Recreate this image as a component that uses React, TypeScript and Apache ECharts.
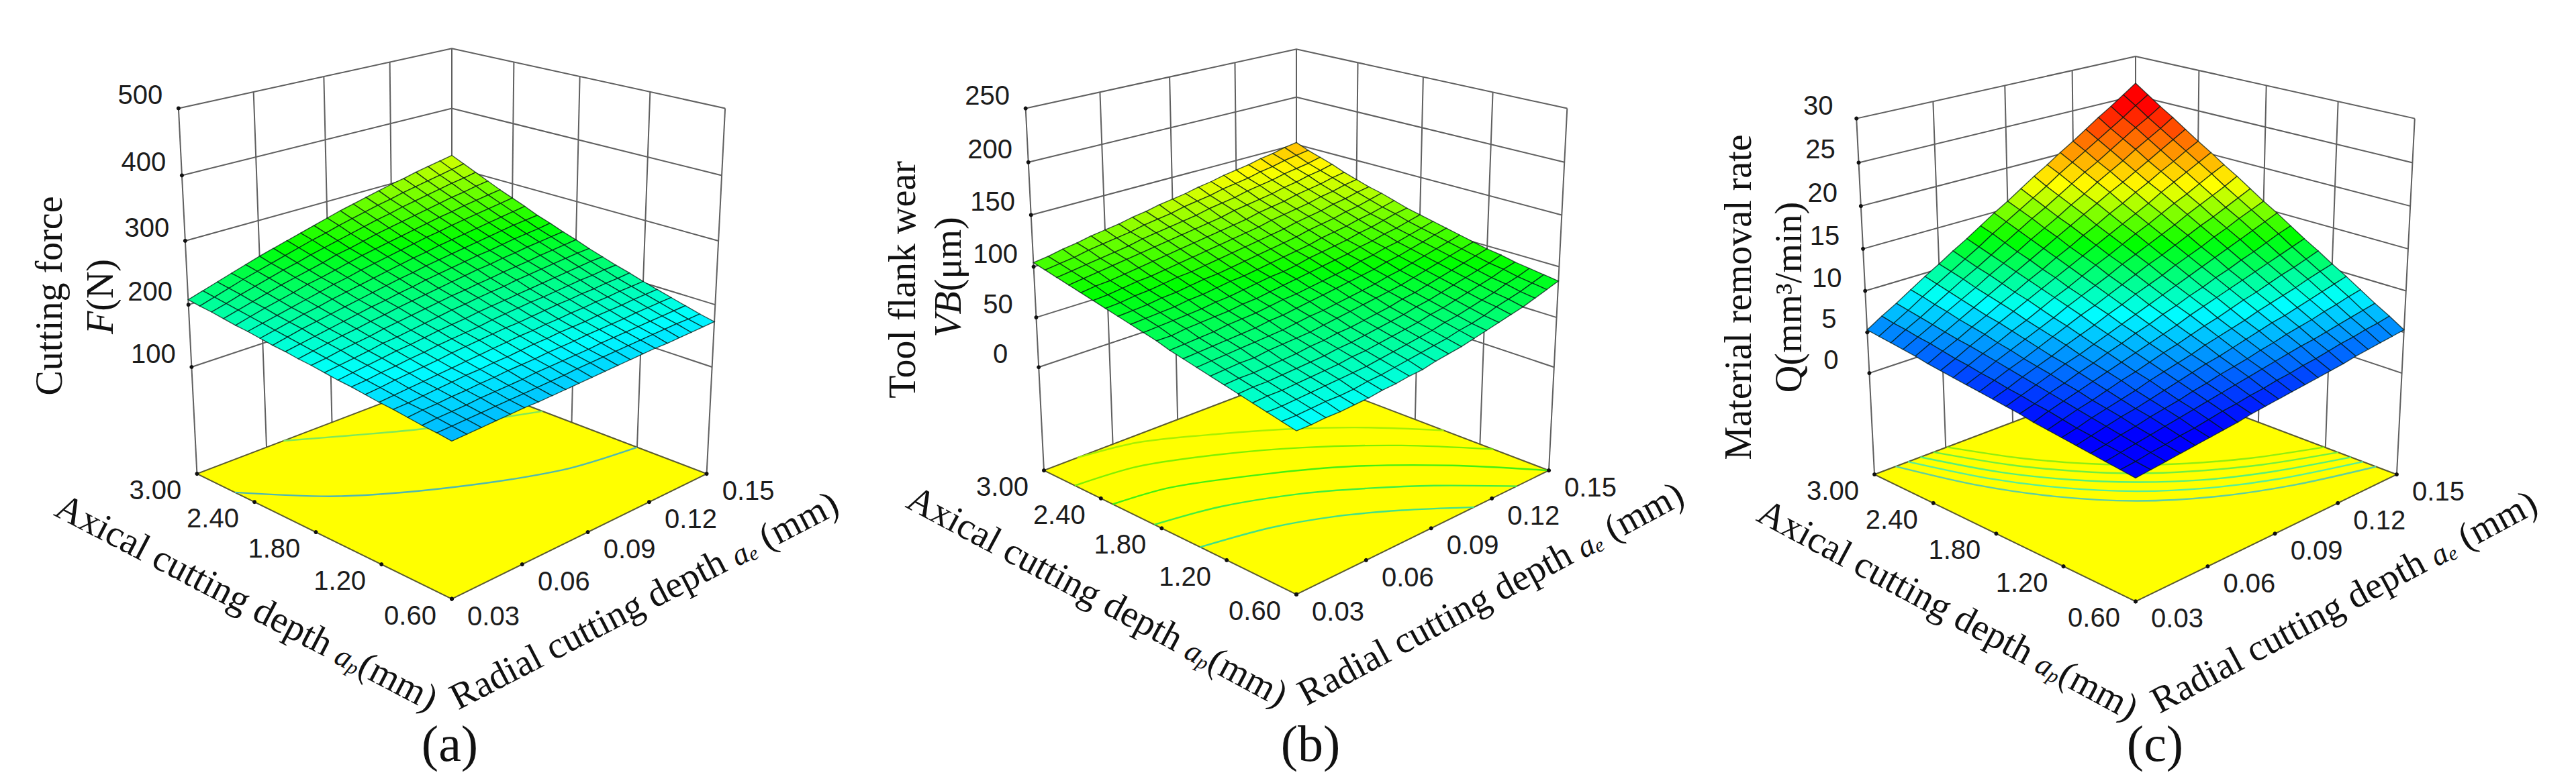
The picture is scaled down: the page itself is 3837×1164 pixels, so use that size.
import React, { useEffect, useRef } from "react";
import * as echarts from "echarts";

// All surface heights below are estimates: corners, edges and floor contours were read
// off the picture; interior nodes are hand-estimated between them, not individually measured.
const aeTicks = [0.03, 0.06, 0.09, 0.12, 0.15];
const apTicks = [0.6, 1.2, 1.8, 2.4, 3.0];
const forceTicks = [100, 200, 300, 400, 500];
const wearTicks = [0, 50, 100, 150, 200, 250];
const rateTicks = [0, 5, 10, 15, 20, 25, 30];

// rows: ap 0.60 -> 3.00; columns: ae 0.03 -> 0.15
const forceTable = [
[155,156,157,158,159,160,160,161,162,163,164,165,166,167,168,169,169,170,171,172,173],
[158,159,160,161,162,163,164,165,166,167,169,170,171,172,173,174,175,176,177,177,178],
[160,162,163,164,166,167,168,169,171,172,173,174,175,177,178,179,180,181,182,183,184],
[163,165,166,168,169,171,172,174,175,176,178,179,180,182,183,184,185,187,188,189,190],
[166,167,169,171,173,175,176,178,179,181,183,184,186,187,188,190,191,192,194,195,196],
[168,170,172,174,176,178,180,182,184,186,188,189,191,192,194,195,197,198,200,201,202],
[171,173,176,178,180,182,185,187,189,191,193,194,196,198,200,201,203,204,206,207,209],
[174,176,179,181,184,186,189,191,193,195,198,200,202,204,205,207,209,211,212,214,215],
[176,179,182,185,188,190,193,196,198,200,203,205,207,209,211,213,215,217,219,221,222],
[179,182,185,188,192,194,197,200,203,206,208,211,213,215,218,220,222,224,226,228,229],
[182,185,189,192,195,199,202,205,208,211,214,216,219,221,224,226,228,231,233,235,237],
[184,188,192,196,199,203,206,210,213,216,219,222,225,228,230,233,235,238,240,242,244],
[187,191,195,199,203,207,211,214,218,221,225,228,231,234,237,239,242,245,247,249,252],
[189,194,199,203,207,211,215,219,223,227,230,234,237,240,243,246,249,252,255,257,259],
[192,197,202,207,211,216,220,224,228,232,236,240,243,247,250,253,256,259,262,265,268],
[195,200,205,210,215,220,225,229,234,238,242,246,250,254,257,261,264,267,270,273,276],
[197,203,209,214,219,225,229,234,239,244,248,252,256,260,264,268,271,275,278,281,284],
[200,206,212,218,224,229,234,239,245,249,254,259,263,267,271,275,279,283,286,290,293],
[203,209,216,222,228,234,239,245,250,255,260,265,270,274,279,283,287,291,295,298,302],
[205,212,219,226,232,238,244,250,256,261,267,272,277,282,286,291,295,299,303,307,311],
[208,215,222,229,236,243,249,255,261,267,273,279,284,289,294,299,303,308,312,316,320],
];
const wearTable = [
[43,43,44,44,45,46,48,49,51,52,55,57,59,62,65,68,71,74,78,82,86],
[46,46,47,48,48,49,51,52,54,56,58,60,62,65,67,70,74,77,80,84,88],
[49,49,50,51,52,53,54,55,57,59,61,63,65,68,70,73,76,79,83,86,90],
[52,53,53,54,55,56,57,59,60,62,64,66,68,71,73,76,79,82,85,89,92],
[55,56,56,57,58,59,60,62,63,65,67,69,71,74,76,79,82,85,88,91,95],
[58,59,59,60,61,62,64,65,67,68,70,72,74,77,79,82,85,88,91,94,97],
[61,62,63,63,65,66,67,68,70,72,74,76,78,80,82,85,88,91,94,97,100],
[64,65,66,67,68,69,70,72,74,75,77,79,81,83,86,88,91,94,97,100,103],
[67,68,69,70,71,72,74,75,77,79,81,83,85,87,89,92,94,97,100,103,106],
[70,71,72,73,75,76,77,79,81,82,84,86,88,90,93,95,98,100,103,106,109],
[74,74,76,77,78,79,81,82,84,86,88,90,92,94,96,99,101,104,106,109,112],
[77,78,79,80,81,83,84,86,88,90,91,93,96,98,100,102,105,107,110,113,115],
[80,81,82,83,85,86,88,90,91,93,95,97,99,101,104,106,108,111,113,116,119],
[83,84,85,87,88,90,92,93,95,97,99,101,103,105,108,110,112,115,117,120,123],
[86,87,89,90,92,94,95,97,99,101,103,105,107,109,112,114,116,119,121,124,126],
[89,90,92,94,95,97,99,101,103,105,107,109,111,114,116,118,120,123,125,128,130],
[92,94,95,97,99,101,103,105,107,109,111,113,115,118,120,122,125,127,129,132,134],
[95,97,99,101,103,105,107,109,111,113,115,117,120,122,124,126,129,131,134,136,139],
[98,100,102,104,106,108,111,113,115,117,119,122,124,126,129,131,133,136,138,140,143],
[101,103,105,108,110,112,114,117,119,121,124,126,128,131,133,135,138,140,143,145,147],
[104,106,109,111,114,116,118,121,123,126,128,130,133,135,138,140,142,145,147,150,152],
];
const rateTable = [
[1.1,1.3,1.5,1.7,1.9,2.1,2.3,2.5,2.8,3.0,3.2,3.4,3.6,3.8,4.0,4.2,4.5,4.7,4.9,5.1,5.3],
[1.3,1.5,1.8,2.0,2.3,2.5,2.8,3.1,3.3,3.6,3.8,4.1,4.3,4.6,4.8,5.1,5.4,5.6,5.9,6.1,6.4],
[1.5,1.8,2.1,2.4,2.7,3.0,3.3,3.6,3.9,4.2,4.5,4.8,5.1,5.4,5.7,5.9,6.2,6.5,6.8,7.1,7.4],
[1.7,2.0,2.4,2.7,3.1,3.4,3.7,4.1,4.4,4.8,5.1,5.4,5.8,6.1,6.5,6.8,7.1,7.5,7.8,8.2,8.5],
[1.9,2.3,2.7,3.1,3.4,3.8,4.2,4.6,5.0,5.4,5.7,6.1,6.5,6.9,7.3,7.6,8.0,8.4,8.8,9.2,9.6],
[2.1,2.5,3.0,3.4,3.8,4.2,4.7,5.1,5.5,5.9,6.4,6.8,7.2,7.6,8.1,8.5,8.9,9.3,9.8,10.2,10.6],
[2.3,2.8,3.3,3.7,4.2,4.7,5.1,5.6,6.1,6.5,7.0,7.5,7.9,8.4,8.9,9.3,9.8,10.3,10.7,11.2,11.7],
[2.5,3.1,3.6,4.1,4.6,5.1,5.6,6.1,6.6,7.1,7.6,8.2,8.7,9.2,9.7,10.2,10.7,11.2,11.7,12.2,12.7],
[2.8,3.3,3.9,4.4,5.0,5.5,6.1,6.6,7.2,7.7,8.3,8.8,9.4,9.9,10.5,11.0,11.6,12.1,12.7,13.3,13.8],
[3.0,3.6,4.2,4.8,5.4,5.9,6.5,7.1,7.7,8.3,8.9,9.5,10.1,10.7,11.3,11.9,12.5,13.1,13.7,14.3,14.9],
[3.2,3.8,4.5,5.1,5.7,6.4,7.0,7.6,8.3,8.9,9.6,10.2,10.8,11.5,12.1,12.7,13.4,14.0,14.7,15.3,15.9],
[3.4,4.1,4.8,5.4,6.1,6.8,7.5,8.2,8.8,9.5,10.2,10.9,11.6,12.2,12.9,13.6,14.3,14.9,15.6,16.3,17.0],
[3.6,4.3,5.1,5.8,6.5,7.2,7.9,8.7,9.4,10.1,10.8,11.6,12.3,13.0,13.7,14.4,15.2,15.9,16.6,17.3,18.1],
[3.8,4.6,5.4,6.1,6.9,7.6,8.4,9.2,9.9,10.7,11.5,12.2,13.0,13.8,14.5,15.3,16.1,16.8,17.6,18.4,19.1],
[4.0,4.8,5.7,6.5,7.3,8.1,8.9,9.7,10.5,11.3,12.1,12.9,13.7,14.5,15.3,16.1,17.0,17.8,18.6,19.4,20.2],
[4.2,5.1,5.9,6.8,7.6,8.5,9.3,10.2,11.0,11.9,12.7,13.6,14.4,15.3,16.1,17.0,17.8,18.7,19.5,20.4,21.2],
[4.5,5.4,6.2,7.1,8.0,8.9,9.8,10.7,11.6,12.5,13.4,14.3,15.2,16.1,17.0,17.8,18.7,19.6,20.5,21.4,22.3],
[4.7,5.6,6.5,7.5,8.4,9.3,10.3,11.2,12.1,13.1,14.0,14.9,15.9,16.8,17.8,18.7,19.6,20.6,21.5,22.4,23.4],
[4.9,5.9,6.8,7.8,8.8,9.8,10.7,11.7,12.7,13.7,14.7,15.6,16.6,17.6,18.6,19.5,20.5,21.5,22.5,23.4,24.4],
[5.1,6.1,7.1,8.2,9.2,10.2,11.2,12.2,13.3,14.3,15.3,16.3,17.3,18.4,19.4,20.4,21.4,22.4,23.4,24.5,25.5],
[5.3,6.4,7.4,8.5,9.6,10.6,11.7,12.7,13.8,14.9,15.9,17.0,18.1,19.1,20.2,21.2,22.3,23.4,24.4,25.5,26.6],
];

// floor contours as [ae, ap] pairs
const forceContours = [
  [[0.03,2.6],[0.052,2.08],[0.082,1.66],[0.118,1.32],[0.15,1.2]],
  [[0.0676,3.0],[0.0877,2.73],[0.11,2.45],[0.15,2.08]],
];
const wearContours = [
  [[0.03,1.44],[0.0545,1.32],[0.0747,1.14],[0.0928,0.9],[0.111,0.6]],
  [[0.03,1.87],[0.0536,1.76],[0.0792,1.52],[0.0972,1.27],[0.114,0.99],[0.1329,0.6]],
  [[0.03,2.28],[0.0516,2.2],[0.0822,1.89],[0.1056,1.58],[0.13,1.11],[0.15,0.6]],
  [[0.03,2.67],[0.0545,2.6],[0.0806,2.35],[0.1045,2.03],[0.13,1.57],[0.15,1.08]],
  [[0.0443,3.0],[0.067,2.9],[0.0924,2.6],[0.114,2.29],[0.133,1.94],[0.15,1.53]],
];
const rateContours = [
  [[0.0387,3],[0.048,2.42],[0.06,1.94],[0.0762,1.52],[0.096,1.21],[0.12,0.97],[0.15,0.77]],
  [[0.0439,3],[0.054,2.44],[0.066,2.0],[0.0812,1.62],[0.099,1.33],[0.12,1.1],[0.15,0.88]],
  [[0.0491,3],[0.06,2.45],[0.072,2.05],[0.0858,1.72],[0.102,1.44],[0.123,1.2],[0.15,0.98]],
  [[0.0547,3],[0.066,2.49],[0.078,2.11],[0.0906,1.81],[0.105,1.57],[0.1245,1.32],[0.15,1.09]],
  [[0.0605,3],[0.072,2.52],[0.084,2.16],[0.0953,1.905],[0.108,1.68],[0.126,1.44],[0.15,1.21]],
];

// heights at which the surface colour reaches blue, cyan, green, yellow, red
const forceColorStops = [99, 179, 250, 332, 410];
const wearColorStops = [-2, 44, 91, 138, 185];
const rateColorStops = [2.4, 8.3, 13, 17.5, 24.5];

const SERIF = "Liberation Serif";
const SANS = "Liberation Sans";
const DIST = 10.18;

const panels = [
  { table: forceTable, zTicks: forceTicks, contours: forceContours, contourColors: ["#4fb8b0", "#7ee85a"], colorStops: forceColorStops,
    cx: 665, cy: 435.3, k: 277.8, h: 1.042, elev: 20, zMin: -77, zMax: 500 },
  { table: wearTable, zTicks: wearTicks, contours: wearContours, contourColors: ["#3fe08a", "#40ee40", "#44f010", "#80f000", "#a8f000"], colorStops: wearColorStops,
    cx: 1923, cy: 432.8, k: 275.2, h: 1.042, elev: 20, zMin: -107, zMax: 250 },
  { table: rateTable, zTicks: rateTicks, contours: rateContours, contourColors: ["#5ecfa0", "#55ee99", "#55f07a", "#70f040", "#90ee10"], colorStops: rateColorStops,
    cx: 3173, cy: 442.7, k: 284.2, h: 0.992, elev: 20, zMin: -12.76, zMax: 30 },
];

const titles = [
  { lines: [
      { text: "{t|Cutting force}", x: 65, y: 433 },
      { text: "{i|F}{t|(N)}", x: 141, y: 434 },
    ], axial: [360, 889, 27.6], radial: [951, 886, 27.4], tag: "(a)", tagAt: [662, 1100] },
  { lines: [
      { text: "{t|Tool flank wear}", x: 1336, y: 409 },
      { text: "{i|VB}{t|(μm)}", x: 1404, y: 405 },
    ], axial: [1627, 880, 28.2], radial: [2212, 876, 28.2], tag: "(b)", tagAt: [1944, 1100] },
  { lines: [
      { text: "{t|Material removal rate}", x: 2581, y: 435 },
      { text: "{t|Q(mm³/min)}", x: 2656, y: 435 },
    ], axial: [2894, 900, 28.2], radial: [3483, 888, 28.1], tag: "(c)", tagAt: [3202, 1100] },
];

const RAMP = [[0, 0, 255], [0, 255, 255], [0, 255, 0], [255, 255, 0], [255, 0, 0]];
function ramp(value: number, stops: number[]) {
  const v = Math.max(stops[0], Math.min(stops[4] - 1e-6, value));
  let i = 0;
  while (i < 3 && v >= stops[i + 1]) i++;
  const m = (v - stops[i]) / (stops[i + 1] - stops[i]);
  const c = RAMP[i].map((x, n) => Math.round(x + (RAMP[i + 1][n] - x) * m));
  return `rgb(${c[0]},${c[1]},${c[2]})`;
}

function makeProjector(p: any) {
  const rad = (p.elev * Math.PI) / 180;
  const c = Math.cos(rad);
  const s = Math.sin(rad);
  const aeLo = aeTicks[0];
  const aeHi = aeTicks[aeTicks.length - 1];
  const apLo = apTicks[0];
  const apHi = apTicks[apTicks.length - 1];
  return (ae: number, ap: number, z: number | null) => {
    const u = (2 * (ae - aeLo)) / (aeHi - aeLo) - 1;
    const v = (2 * (ap - apLo)) / (apHi - apLo) - 1;
    const w = z === null ? -p.h : -p.h + (2 * p.h * (z - p.zMin)) / (p.zMax - p.zMin);
    const a = (u - v) / Math.SQRT2;
    const b = (u + v) / Math.SQRT2;
    const Y = w * c + b * s;
    const Z = b * c - w * s;
    const rho = 1 + Z / DIST;
    return [a / rho, Y / rho];
  };
}

function buildSeries(p: any, idx: number) {
  const proj = makeProjector(p);
  const aeLo = aeTicks[0];
  const aeHi = aeTicks[aeTicks.length - 1];
  const apLo = apTicks[0];
  const apHi = apTicks[apTicks.length - 1];
  const base = { type: "custom", coordinateSystem: "cartesian2d", xAxisIndex: idx, yAxisIndex: idx, silent: true, clip: false };
  const pts = (api: any, list: any[]) => list.map((q) => api.coord(proj(q[0], q[1], q[2])));
  const wallStyle = { stroke: "#5f5f5f", lineWidth: 2, fill: "none" };

  const walls: any[] = [];
  p.zTicks.forEach((z: number) => walls.push([[aeLo, apHi, z], [aeHi, apHi, z], [aeHi, apLo, z]]));
  aeTicks.forEach((ae) => walls.push([[ae, apHi, null], [ae, apHi, p.zMax]]));
  apTicks.slice(0, -1).forEach((ap) => walls.push([[aeHi, ap, null], [aeHi, ap, p.zMax]]));

  const marks: any[] = [];
  p.zTicks.forEach((z: number) => marks.push([aeLo, apHi, z]));
  apTicks.forEach((ap) => marks.push([aeLo, ap, null]));
  aeTicks.forEach((ae) => marks.push([ae, apLo, null]));

  const labels: any[] = [];
  p.zTicks.forEach((z: number) => labels.push({ at: [aeLo, apHi, z], text: String(z), dx: -57, dy: -20 }));
  apTicks.forEach((ap) => labels.push({ at: [aeLo, ap, null], text: ap.toFixed(2), dx: -62, dy: 24 }));
  aeTicks.forEach((ae) => labels.push({ at: [ae, apLo, null], text: ae.toFixed(2), dx: 62, dy: 25 }));

  const n = p.table.length - 1;
  const cells: number[][] = [];
  for (let j = n - 1; j >= 0; j--) for (let i = n - 1; i >= 0; i--) cells.push([i, j]);
  const aeOf = (i: number) => aeLo + ((aeHi - aeLo) * i) / n;
  const apOf = (j: number) => apLo + ((apHi - apLo) * j) / n;

  const idxData = (list: any[]) => list.map((_, i) => [i, i]);

  return [
    { ...base, name: `walls${idx}`, z: 1, data: idxData(walls),
      renderItem: (ps: any, api: any) => ({ type: "polyline", silent: true, shape: { points: pts(api, walls[ps.dataIndex]) }, style: wallStyle }) },
    { ...base, name: `floor${idx}`, z: 2, data: [[0, 0]],
      renderItem: (_: any, api: any) => ({ type: "polygon", silent: true,
        shape: { points: pts(api, [[aeLo, apLo, null], [aeHi, apLo, null], [aeHi, apHi, null], [aeLo, apHi, null]]) },
        style: { fill: "#ffff00", stroke: "#5a5a30", lineWidth: 2 } }) },
    { ...base, name: `contours${idx}`, z: 3, data: idxData(p.contours),
      renderItem: (ps: any, api: any) => ({ type: "polyline", silent: true,
        shape: { smooth: 0.3, points: pts(api, p.contours[ps.dataIndex].map((q: number[]) => [q[0], q[1], null])) },
        style: { stroke: p.contourColors[ps.dataIndex], lineWidth: 2.4, fill: "none" } }) },
    { ...base, name: `marks${idx}`, z: 4, data: idxData(marks),
      renderItem: (ps: any, api: any) => {
        const c = pts(api, [marks[ps.dataIndex]])[0];
        return { type: "circle", silent: true, shape: { cx: c[0], cy: c[1], r: 3 }, style: { fill: "#111" } };
      } },
    { ...base, name: `surface${idx}`, z: 5, data: idxData(cells),
      renderItem: (ps: any, api: any) => {
        const [i, j] = cells[ps.dataIndex];
        const t = p.table;
        const mean = (t[j][i] + t[j][i + 1] + t[j + 1][i] + t[j + 1][i + 1]) / 4;
        return { type: "polygon", silent: true,
          shape: { points: pts(api, [
            [aeOf(i), apOf(j), t[j][i]],
            [aeOf(i + 1), apOf(j), t[j][i + 1]],
            [aeOf(i + 1), apOf(j + 1), t[j + 1][i + 1]],
            [aeOf(i), apOf(j + 1), t[j + 1][i]],
          ]) },
          style: { fill: ramp(mean, p.colorStops), stroke: "rgba(0,25,20,0.72)", lineWidth: 1.4 } };
      } },
    { ...base, name: `labels${idx}`, z: 6, data: idxData(labels),
      renderItem: (ps: any, api: any) => {
        const l = labels[ps.dataIndex];
        const c = pts(api, [l.at])[0];
        return { type: "text", silent: true, x: c[0] + l.dx, y: c[1] + l.dy,
          style: { text: l.text, fontFamily: SANS, fontSize: 40, fill: "#1c1c1c", align: "center", verticalAlign: "middle" } };
      } },
  ];
}

const rich = {
  t: { fontFamily: SERIF, fontSize: 56, fill: "#111" },
  i: { fontFamily: SERIF, fontSize: 56, fontStyle: "italic", fill: "#111" },
  a: { fontFamily: SERIF, fontSize: 46, fontStyle: "italic", fill: "#111", verticalAlign: "bottom" },
  s: { fontFamily: SERIF, fontSize: 30, fontStyle: "italic", fill: "#111", verticalAlign: "bottom" },
};

function titleElements() {
  const out: any[] = [];
  const textEl = (text: string, x: number, y: number, rotation: number) => ({
    type: "text", x, y, rotation, silent: true, z: 20,
    style: { text, rich, fontFamily: SERIF, fontSize: 56, fill: "#111", align: "center", verticalAlign: "middle" },
  });
  titles.forEach((t) => {
    t.lines.forEach((l) => out.push(textEl(l.text, l.x, l.y, Math.PI / 2)));
    out.push(textEl("{t|Axical cutting depth }{a|a}{s|p}{t|(mm)}", t.axial[0], t.axial[1], (-t.axial[2] * Math.PI) / 180));
    out.push(textEl("{t|Radial cutting depth }{a|a}{s|e}{t| (mm)}", t.radial[0], t.radial[1], (t.radial[2] * Math.PI) / 180));
    out.push({ type: "text", x: t.tagAt[0], y: t.tagAt[1], silent: true, z: 20,
      style: { text: t.tag, fontFamily: SERIF, fontSize: 76, fill: "#111", align: "center", verticalAlign: "middle" } });
  });
  return out;
}

export default function App() {
  const ref = useRef<HTMLDivElement>(null);
  useEffect(() => {
    const chart = echarts.init(ref.current as HTMLDivElement, undefined, { renderer: "svg" });
    const axisOff = { type: "value", show: false, scale: true };
    chart.setOption({
      animation: false,
      backgroundColor: "#ffffff",
      tooltip: { show: false },
      grid: panels.map((p) => ({ left: p.cx - 1.6 * p.k, top: p.cy - 1.5 * p.k, width: 3.2 * p.k, height: 3.2 * p.k })),
      xAxis: panels.map((_, i) => ({ ...axisOff, gridIndex: i, min: -1.6, max: 1.6 })),
      yAxis: panels.map((_, i) => ({ ...axisOff, gridIndex: i, min: -1.7, max: 1.5 })),
      series: panels.flatMap((p, i) => buildSeries(p, i)),
      graphic: { elements: titleElements() },
    });
    return () => chart.dispose();
  }, []);
  return <div ref={ref} style={{ position: "fixed", left: 0, top: 0, width: 3837, height: 1164 }} />;
}
